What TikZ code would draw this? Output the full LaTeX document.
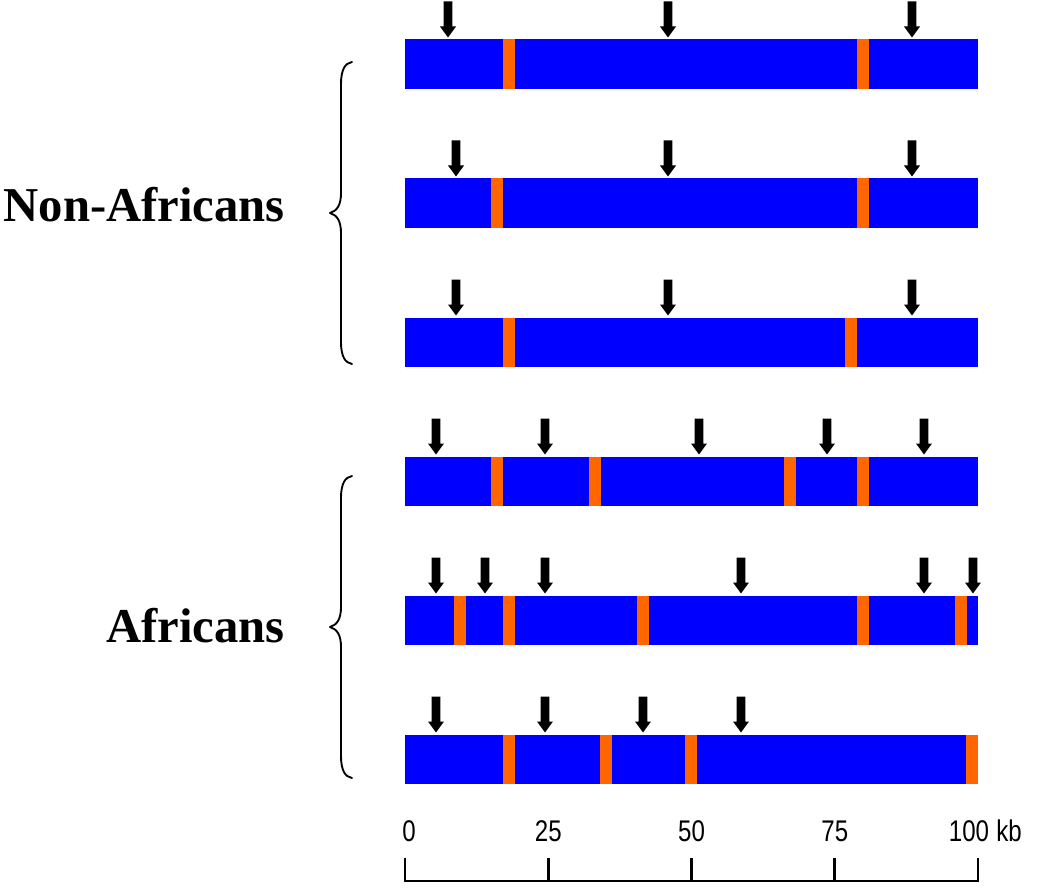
\documentclass[tikz,border=0pt]{standalone}
\usepackage{fontspec}
\setmainfont{Liberation Serif}
\newfontfamily\axisfont{Liberation Sans}
\definecolor{barblue}{RGB}{0,0,255}
\definecolor{segorange}{RGB}{255,102,0}
\newcommand{\tallnum}[1]{\scalebox{0.95}[1.18]{#1}}
\begin{document}
\begin{tikzpicture}[x=0.75pt,y=-0.75pt]
\useasboundingbox (0,0) rectangle (1050,888);
\tikzset{
  barfill/.style={fill=barblue},
  segfill/.style={fill=segorange},
  grouplabel/.style={font=\fontsize{36.5}{40}\selectfont\bfseries, inner sep=0pt, anchor=base east},
  axislabel/.style={font=\axisfont\fontsize{19}{20}\selectfont, inner sep=0pt, anchor=base},
  bracestyle/.style={draw=black, line width=1.4pt, line cap=round, line join=round},
  axisline/.style={draw=black, line width=2.2pt},
  darrow/.pic={\fill[black] (-4.3,-36) -- (4.3,-36) -- (4.3,-11) -- (8,-11) -- (0,0) -- (-8,-11) -- (-4.3,-11) -- cycle;}
}
% bars, orange segments and arrows
\foreach \top/\segs/\arrs in {
  39.5/{503,857}/{448,668,912},
  178.5/{491,857}/{456,668,912},
  317.5/{503,845}/{456,668,912},
  456.5/{491,589,784,857}/{436,545,699,827,924},
  595.5/{454,503,637,857,955}/{436,485,545,741,924,973},
  734.5/{503,600,685,966}/{436,545,643,741}}{
  \fill[barfill] (405,\top) rectangle (978,\top+49.5);
  \foreach \s in \segs {\fill[segfill] (\s,\top) rectangle ({min(\s+12,978)},\top+49.5);}
  \foreach \a in \arrs {\pic at (\a,\top-2) {darrow};}
}
% group labels
\node[grouplabel] (nonaf) at (285,222) {Non-Africans};
\node[grouplabel] (af) at (285,642) {Africans};
% braces
\draw[bracestyle] (352,62) .. controls (345,63) and (341,70) .. (341,84) -- (341,193) .. controls (341,205) and (337,211) .. (330,213) .. controls (337,215) and (341,221) .. (341,233) -- (341,342) .. controls (341,356) and (345,363) .. (352,364);
\draw[bracestyle] (352,476) .. controls (345,477) and (341,484) .. (341,498) -- (341,607) .. controls (341,619) and (337,625) .. (330,627) .. controls (337,629) and (341,635) .. (341,647) -- (341,756) .. controls (341,770) and (345,777) .. (352,778);
% axis
\draw[axisline] (405,858) -- (405,881) -- (978,881) -- (978,858);
\foreach \t in {548.25,691.5,834.75} {\draw[axisline] (\t,858) -- (\t,881);}
\node[axislabel] (l0) at (409,841) {\tallnum{0}};
\node[axislabel] (l25) at (548.25,841) {\tallnum{25}};
\node[axislabel] (l50) at (691.5,841) {\tallnum{50}};
\node[axislabel] (l75) at (834.75,841) {\tallnum{75}};
\node[axislabel] (l100) at (969,841) {\tallnum{100}};
\node[axislabel, anchor=base west] (kb) at ([xshift=5pt]l100.base east) {\tallnum{kb}};
\end{tikzpicture}
\end{document}
